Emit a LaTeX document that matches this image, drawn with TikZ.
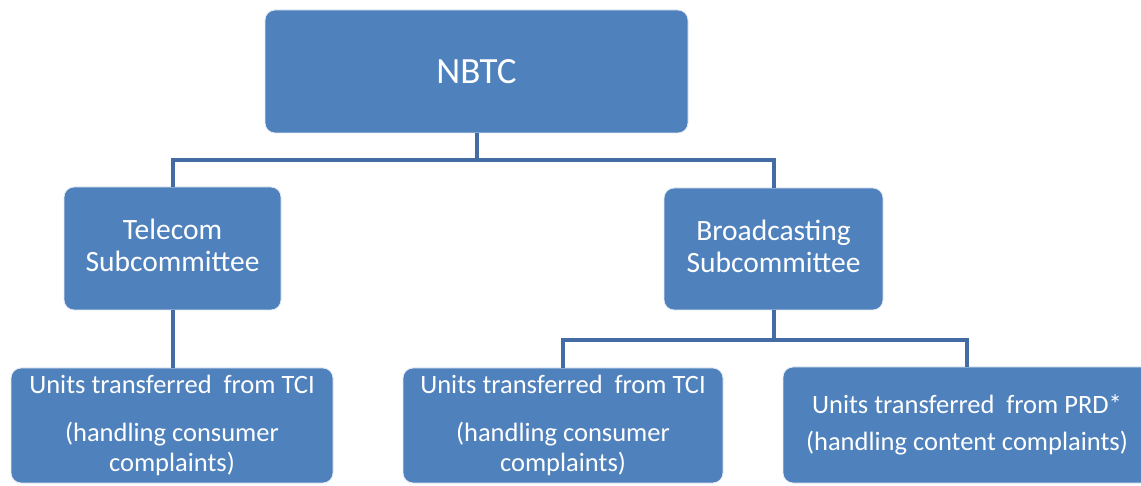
\documentclass[tikz,border=0pt]{standalone}
\usepackage{fontspec}
\setmainfont{Carlito}
\definecolor{boxblue}{RGB}{79,129,189}
\definecolor{linkblue}{RGB}{66,108,163}
\begin{document}
\begin{tikzpicture}[x=1pt,y=-1pt,
  orgbox/.style={draw=white!85!boxblue, line width=0.8pt, fill=boxblue, rounded corners=10pt,
    text=white, align=center, inner sep=0pt},
  conn/.style={draw=linkblue, line width=4pt},
  bottomtext/.style={font=\fontsize{26.5}{30}\selectfont}]
\useasboundingbox (0,0) rectangle (1141,486);
\clip (0,0) rectangle (1141,486);
\fill[white] (0,0) rectangle (1141,486);
% boxes
\node[orgbox, minimum width=423pt, minimum height=123pt, font=\fontsize{37}{44}\selectfont] (nbtc) at (476.5,71.5) {NBTC};
\node[orgbox, minimum width=217pt, minimum height=123pt, font=\fontsize{29.5}{32}\selectfont] (tel) at (172.5,248.5) {Telecom\\Subcommittee\\[-26pt]\mbox{}};
\node[orgbox, minimum width=219pt, minimum height=122pt, font=\fontsize{29.5}{32}\selectfont] (brd) at (773.5,249) {Broadcasting\\Subcommittee\\[-26pt]\mbox{}};
\node[orgbox, bottomtext, minimum width=322pt, minimum height=115pt] (bl) at (172,425.5)
  {Units transferred\hspace{0.22em} from TCI\\[18pt](handling consumer\\complaints)};
\node[orgbox, bottomtext, minimum width=320pt, minimum height=115pt] (bm) at (563,425.5)
  {Units transferred\hspace{0.22em} from TCI\\[18pt](handling consumer\\complaints)};
\node[orgbox, bottomtext, minimum width=368pt, minimum height=116pt] (br) at (967,425)
  {Units transferred\hspace{0.22em} from PRD*\\[7pt](handling content complaints)};
% connectors
\coordinate (bus1) at (0,160);
\coordinate (bus2) at (0,340);
\draw[conn] (nbtc.south) -- (nbtc.south |- bus1) -| (tel.north);
\draw[conn] (nbtc.south |- bus1) -| (brd.north);
\draw[conn] (tel.south) -- (tel.south |- bl.north);
\draw[conn] (brd.south) -- (brd.south |- bus2) -| (bm.north);
\draw[conn] (brd.south |- bus2) -| (br.north);
\end{tikzpicture}
\end{document}
